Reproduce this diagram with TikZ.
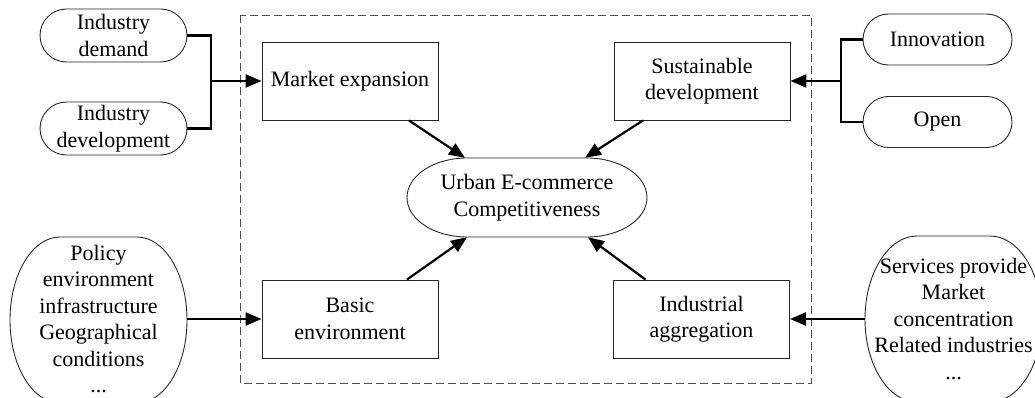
\documentclass[tikz,border=0pt]{standalone}
\usepackage{fontspec}
\setmainfont{Liberation Serif}
\usetikzlibrary{arrows.meta,calc}
% terminator outline with elliptical ends: left, top, right, bottom, end radius
\newcommand\terminator[5]{%
  \pgfmathsetmacro\tA{#1+#5}\pgfmathsetmacro\tB{#3-#5}%
  \pgfmathsetmacro\tC{(#2+#4)/2}%
  \pgfmathsetmacro\tK{0.5523*#5}\pgfmathsetmacro\tH{0.5523*(#4-#2)/2}%
  \draw[outline] (\tA,#2) -- (\tB,#2)
    .. controls ({\tB+\tK},#2) and (#3,{\tC-\tH}) .. (#3,\tC)
    .. controls (#3,{\tC+\tH}) and ({\tB+\tK},#4) .. (\tB,#4)
    -- (\tA,#4)
    .. controls ({\tA-\tK},#4) and (#1,{\tC+\tH}) .. (#1,\tC)
    .. controls (#1,{\tC-\tH}) and ({\tA-\tK},#2) .. cycle;}
\begin{document}
\begin{tikzpicture}[x=1pt,y=-1pt,
  every node/.style={font=\fontsize{22}{26.5}\selectfont, align=center, inner sep=0pt},
  outline/.style={draw=black!85, line width=0.9pt},
  box/.style={outline, minimum width=176, minimum height=78},
  frame/.style={draw=black!70, line width=0.9pt, dash pattern=on 8pt off 4pt},
  wire/.style={line width=2.2pt},
  link/.style={line width=2.2pt, -{Triangle[length=16pt,width=13pt]}},
]
\useasboundingbox (0,0) rectangle (1035,398);

% dashed frame around the core factors
\draw[frame] (240,15) rectangle (811,383);

% inputs on the left
\node[minimum width=147, minimum height=53] (dem) at (113.5,35.5) {Industry\\demand};
\terminator{40}{9}{187}{62}{26.5}
\node[minimum width=147, minimum height=53] (dev) at (113.5,128.5) {Industry\\development};
\terminator{40}{102}{187}{155}{26.5}
\node[minimum width=177, minimum height=166] (pol) at (98.5,319) {Policy\\environment\\infrastructure\\Geographical\\conditions\\...};
\terminator{10}{237}{187}{403}{50}

% inputs on the right
\node[minimum width=149, minimum height=51] (inn) at (937.5,39.5) {Innovation};
\terminator{863}{14}{1012}{65}{25.5}
\node[minimum width=149, minimum height=51] (opn) at (937.5,122) {Open};
\terminator{863}{96.5}{1012}{147.5}{25.5}
\node[minimum width=177, minimum height=166] (srv) at (953.5,319) {Services provide\\Market\\concentration\\Related industries\\...};
\terminator{865}{236}{1042}{402}{52}

% core factors
\node[box] (me) at (350,81) {Market expansion};
\node[box] (sd) at (702,81) {Sustainable\\development};
\node[box] (be) at (350,319) {Basic\\environment};
\node[box] (ia) at (701.5,319) {Industrial\\aggregation};

% central goal
\node[minimum width=240, minimum height=79] (cen) at (527,197.5) {Urban E-commerce\\Competitiveness};
\terminator{407}{158}{647}{237}{60}

% merging connectors
\draw[wire] (dem.east) -- ++(24,0) |- (dev.east);
\coordinate (jl) at (211,81);
\draw[link] (jl) -- (me.west);
\draw[wire] (inn.west) -- ++(-22,0) |- (opn.west);
\coordinate (jr) at (841,81);
\draw[link] (jr) -- (sd.east);

\draw[link] (pol.east) -- (be.west);
\draw[link] (srv.west) -- (ia.east);

% factors pointing to the goal
\draw[link] ($(me.south)+(59,0)$) -- ($(cen.north)+(-62,0)$);
\draw[link] ($(sd.south)+(-59,0)$) -- ($(cen.north)+(58,0)$);
\draw[link] ($(be.north)+(57,0)$) -- ($(cen.south)+(-60,0)$);
\draw[link] ($(ia.north)+(-56,0)$) -- ($(cen.south)+(61,0)$);
\end{tikzpicture}
\end{document}
